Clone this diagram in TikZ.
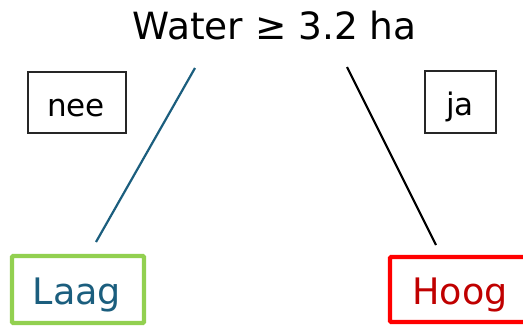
\documentclass[tikz,border=0pt]{standalone}
\usepackage{fontspec}
\setmainfont{DejaVu Sans}
\definecolor{teal1}{HTML}{1B5E7E}
\definecolor{grn}{HTML}{92D050}
\definecolor{drk}{HTML}{C00000}
\begin{document}
\begin{tikzpicture}[x=1pt,y=-1pt,
  lbl/.style={draw=black!85,line width=1.5pt,inner sep=0pt},
  leaf/.style={line width=4.2pt,inner sep=0pt,fill=white,rounded corners=1pt},
  edge/.style={line width=2.2pt}]
\useasboundingbox (0,0) rectangle (523,327);
\node[anchor=base,font=\fontsize{37.5}{42}\selectfont] (root) at (274.5,39.5) {Water ≥ 3.2 ha};
\node[lbl,minimum width=98pt,minimum height=61pt] (neebox) at (77,102.5) {};
\node[anchor=base,font=\fontsize{31}{36}\selectfont] (nee) at (76,116.5) {nee};
\node[lbl,minimum width=71pt,minimum height=62pt] (jabox) at (460.5,102) {};
\node[anchor=base,font=\fontsize{31}{36}\selectfont] (ja) at (460,115) {ja};
\node[leaf,draw=grn,minimum width=132pt,minimum height=67pt] (laagbox) at (78,289.5) {};
\node[anchor=base,text=teal1,font=\fontsize{36.5}{40}\selectfont] (laag) at (77,304) {Laag};
\node[leaf,draw=red,minimum width=140pt,minimum height=65pt] (hoogbox) at (460,289.5) {};
\node[anchor=base,text=drk,font=\fontsize{36.5}{40}\selectfont] (hoog) at (460,304) {Hoog};
\coordinate (l1) at (195,68);
\coordinate (l2) at (96,242);
\coordinate (r1) at (347,67);
\coordinate (r2) at (436,245);
\draw[edge,teal1] (l1) -- (l2);
\draw[edge,black] (r1) -- (r2);
\end{tikzpicture}
\end{document}
